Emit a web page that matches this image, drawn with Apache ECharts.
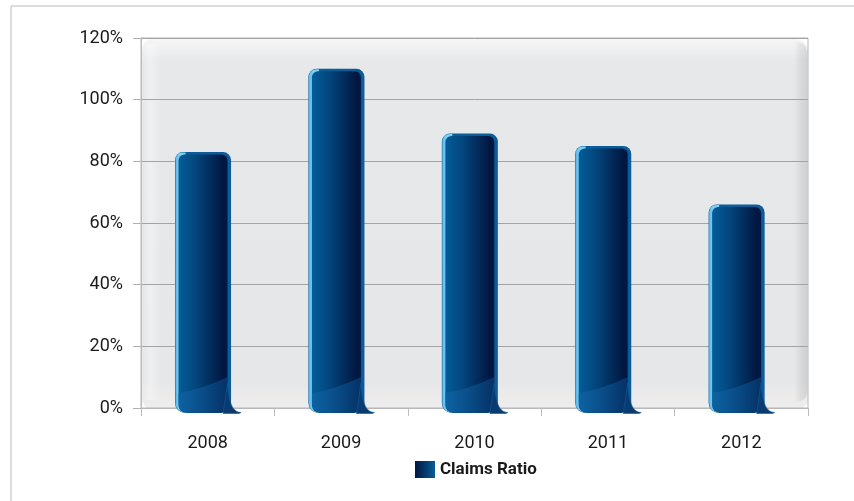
<!DOCTYPE html>
<html>
<head>
<meta charset="utf-8">
<script src="https://cdn.jsdelivr.net/npm/echarts@6/dist/echarts.min.js"></script>
<style>
html,body{margin:0;padding:0;background:#fff;}
#c{width:854px;height:501px;}
</style>
</head>
<body>
<div id="c"></div>
<script>
const categories = ['2008', '2009', '2010', '2011', '2012'];
const claimsRatio = [83, 110, 89, 85, 66];
const seriesName = 'Claims Ratio';
const yTicks = { min: 0, max: 120, interval: 20 };

const FONT = "'Roboto', sans-serif";
const chart = echarts.init(document.getElementById('c'), null, { renderer: 'canvas' });

const G = { left: 141, top: 38, right: 46, bottom: 93 };
const W = 854, H = 501;
const gx = G.left, gy = G.top, gw = W - G.left - G.right, gh = H - G.top - G.bottom;

function renderBar(params, api) {
  const i = api.value(0), v = api.value(1);
  const top = api.coord([i, v]);
  const base = api.coord([i, 0]);
  const bw = api.size([1, 0])[0];
  const w = bw * 0.42;
  const cx = top[0] - bw * 0.035;
  const x0 = cx - w / 2, x1 = cx + w / 2;
  const yT = top[1], yB = base[1] + 5;
  const h = yB - yT;
  return {
    type: 'group',
    children: [
      { type: 'rect', shape: { x: x0, y: yT, width: w, height: h, r: [8, 8, 10, 10] },
        style: { fill: '#0c5c99' } },
      { type: 'rect', shape: { x: x0 + 0.5, y: yT + 0.5, width: 10, height: h - 1, r: [7, 0, 0, 9] },
        style: { fill: new echarts.graphic.LinearGradient(0, 0, 1, 0, [
          { offset: 0, color: '#5cb8e8' }, { offset: 0.4, color: '#7fd0f6' }, { offset: 1, color: '#7fd0f6' }
        ]) } },
      { type: 'rect', shape: { x: x0 + 3.5, y: yT + 2.5, width: w - 7, height: h - 3, r: [6, 6, 7, 7] },
        style: { fill: new echarts.graphic.LinearGradient(0, 0, 1, 0, [
          { offset: 0, color: '#035d99' },
          { offset: 0.35, color: '#03467d' },
          { offset: 0.92, color: '#011640' },
          { offset: 1, color: '#011a46' }
        ]) } },
      { type: 'path', shape: { pathData:
          'M' + (x0 + 3.5) + ' ' + (yB - 20) +
          ' Q' + (cx) + ' ' + (yB - 24) + ' ' + (x1 - 3.5) + ' ' + (yB - 36) +
          ' L' + (x1 - 3.5) + ' ' + (yB - 1) +
          ' L' + (x0 + 10) + ' ' + (yB - 1) + ' Q' + (x0 + 3.5) + ' ' + (yB - 3) + ' ' + (x0 + 3.5) + ' ' + (yB - 11) + ' Z' },
        style: { fill: new echarts.graphic.LinearGradient(0, 0, 1, 0, [
          { offset: 0, color: 'rgba(16,100,165,0.75)' }, { offset: 1, color: 'rgba(8,70,130,0.6)' }
        ]) } },
      { type: 'path', shape: { pathData:
          'M' + (x1 - 3.5) + ' ' + (yB - 30) +
          ' C' + (x1 - 2) + ' ' + (yB - 8) + ' ' + (x1 + 2) + ' ' + (yB - 1) + ' ' + (x1 + 10) + ' ' + (yB - 0.5) +
          ' L' + (x1 + 8) + ' ' + (yB + 0.5) +
          ' L' + (x1 - 8) + ' ' + (yB + 0.5) + ' Z' },
        style: { fill: '#0a3b70', stroke: '#0c5c99', lineWidth: 0.6 } }
    ]
  };
}

const option = {
  backgroundColor: '#ffffff',
  animation: false,
  grid: { left: G.left, top: G.top, right: G.right, bottom: G.bottom, show: true,
          borderColor: '#b4b4b4', borderWidth: 1, backgroundColor: 'transparent' },
  graphic: [
    { type: 'line', z: -20, shape: { x1: 11, y1: 6, x2: W, y2: 6 }, style: { stroke: '#d2d2d2', lineWidth: 1.5 } },
    { type: 'line', z: -20, shape: { x1: 11, y1: 6, x2: 11, y2: H }, style: { stroke: '#d2d2d2', lineWidth: 1.5 } },
    { type: 'rect', z: -20, shape: { x: gx + 1, y: gy + 1, width: gw - 1, height: gh, r: [10, 12, 10, 10] },
      style: { fill: new echarts.graphic.LinearGradient(0, 0, 0, 1, [
        { offset: 0, color: '#f6f6f7' },
        { offset: 0.06, color: '#e7e8e9' },
        { offset: 0.93, color: '#e6e7e8' },
        { offset: 0.95, color: '#eaeaeb' },
        { offset: 1, color: '#ededee' }
      ]) } },
    { type: 'rect', z: -19, shape: { x: gx + gw - 14, y: gy + 4, width: 13, height: gh - 10, r: [0, 10, 10, 0] },
      style: { fill: new echarts.graphic.LinearGradient(0, 0, 1, 0, [
        { offset: 0, color: 'rgba(0,0,0,0)' },
        { offset: 0.5, color: 'rgba(0,0,0,0.06)' },
        { offset: 1, color: 'rgba(0,0,0,0.10)' }
      ]) } },
    { type: 'rect', z: -19, shape: { x: gx + 2, y: gy + 6, width: 18, height: gh - 14 },
      style: { fill: new echarts.graphic.LinearGradient(0, 0, 1, 0, [
        { offset: 0, color: 'rgba(255,255,255,0.0)' },
        { offset: 0.4, color: 'rgba(255,255,255,0.35)' },
        { offset: 1, color: 'rgba(255,255,255,0)' }
      ]) } }
  ],
  legend: {
    left: 415, top: 461, padding: 0, itemWidth: 20, itemHeight: 17, itemGap: 10,
    data: [{ name: seriesName, icon: 'rect',
      itemStyle: { color: new echarts.graphic.LinearGradient(0, 0, 1, 0, [
        { offset: 0, color: '#011640' }, { offset: 1, color: '#075d98' }
      ]) } }],
    textStyle: { fontFamily: FONT, fontSize: 17, fontWeight: 'bold', color: '#1a1a1a' }
  },
  xAxis: {
    type: 'category', data: categories,
    axisLine: { show: true, lineStyle: { color: '#b8b8b8', width: 1 } },
    axisTick: { show: true, length: 8, lineStyle: { color: '#bdbdbd' } },
    axisLabel: { fontFamily: FONT, fontSize: 18, color: '#1a1a1a', margin: 26 },
    splitLine: { show: false }
  },
  yAxis: {
    type: 'value', min: yTicks.min, max: yTicks.max, interval: yTicks.interval,
    axisLine: { show: true, lineStyle: { color: '#bcbcbc' } },
    axisTick: { show: true, length: 8, lineStyle: { color: '#b0b0b0' } },
    axisLabel: { fontFamily: FONT, fontSize: 18, color: '#1a1a1a', margin: 18, formatter: '{value}%' },
    splitLine: { show: true, lineStyle: { color: '#a4a4a4', width: 1 } }
  },
  series: [{
    name: seriesName, type: 'custom', clip: false,
    renderItem: renderBar,
    encode: { x: 0, y: 1 },
    data: claimsRatio.map((v, i) => [i, v])
  }]
};
chart.setOption(option);
</script>
</body>
</html>
